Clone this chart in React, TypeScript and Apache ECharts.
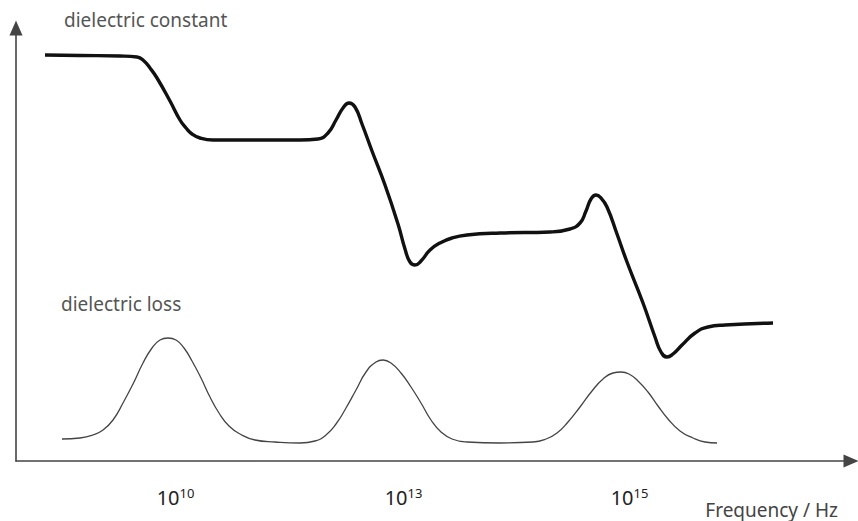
import React, { useEffect, useRef } from "react";
import * as echarts from "echarts";

// Schematic frequency axis (arbitrary units) and response values (arbitrary units)
const dielectricConstant: [number, number][] = [
  [45, 406], [80, 405.5], [120, 405], [137, 404], [144, 400], [150, 393], [157, 383],
  [170, 360], [180, 341], [186, 333], [192, 327], [200, 323], [213, 321], [250, 321],
  [300, 321], [318, 322], [328, 328], [336, 341], [343, 353], [349, 358], [355, 354],
  [362, 337], [372, 310], [385, 276], [398, 237], [405, 212], [410, 199], [415, 196],
  [421, 200], [430, 211], [440, 218], [452, 223], [467, 226], [500, 228], [550, 229],
  [570, 232], [580, 238], [586, 250], [591, 262], [596, 266], [601, 263], [607, 254],
  [617, 227], [627, 199], [643, 158], [655, 124], [661, 109], [667, 104], [673, 107],
  [682, 116], [695, 128], [708, 134], [725, 136], [773, 138],
];

const dielectricLoss: [number, number][] = [
  [62, 22], [80, 23], [93, 26], [103, 31], [113, 41], [123, 58], [133, 77], [143, 98],
  [152, 113], [160, 121], [168, 123], [176, 121], [184, 113], [192, 100], [201, 83],
  [210, 64], [219, 48], [229, 35], [240, 27], [255, 21], [275, 19], [300, 18], [315, 20],
  [326, 26], [336, 37], [346, 53], [356, 71], [366, 89], [376, 99], [383, 101], [391, 98],
  [401, 88], [411, 74], [421, 58], [431, 41], [441, 29], [452, 22], [467, 19], [500, 18],
  [533, 19], [546, 22], [557, 28], [568, 39], [580, 54], [592, 70], [603, 82], [613, 88],
  [621, 89], [629, 87], [638, 80], [648, 69], [658, 55], [668, 42], [680, 30], [693, 23],
  [705, 19], [717, 18],
];

const tickValues = [168, 396, 622];
const tickExponents = ["10", "13", "15"];

const xName = "Frequency / Hz";
const constantName = "dielectric constant";
const lossName = "dielectric loss";

const FONT = "'Noto Sans', 'Open Sans', sans-serif";

export default function App() {
  const ref = useRef<HTMLDivElement>(null);

  useEffect(() => {
    if (!ref.current) return;
    const chart = echarts.init(ref.current, null, { renderer: "svg" });
    chart.setOption({
      animation: false,
      backgroundColor: "#ffffff",
      grid: { left: 16, right: 7, top: 28, bottom: 60, outerBoundsMode: "none", containLabel: false },
      xAxis: {
        type: "value",
        min: 16,
        max: 851,
        axisLine: {
          show: true,
          lineStyle: { color: "#444", width: 1.6 },
          symbol: ["none", "triangle"],
          symbolSize: [13, 15],
        },
        axisTick: { show: false },
        splitLine: { show: false },
        axisLabel: {
          customValues: tickValues,
          margin: 25,
          color: "#222",
          fontFamily: FONT,
          fontSize: 20,
          padding: [0, 0, 0, 15],
          formatter: (v: number) => {
            const i = tickValues.indexOf(v);
            return i >= 0 ? `10{s|${tickExponents[i]}}` : "";
          },
          rich: {
            s: { fontSize: 13, fontFamily: FONT, color: "#222", verticalAlign: "top", lineHeight: 22 },
          },
        },
      },
      yAxis: {
        type: "value",
        min: 0,
        max: 433,
        axisLine: {
          show: true,
          lineStyle: { color: "#444", width: 1.6 },
          symbol: ["none", "triangle"],
          symbolSize: [13, 15],
        },
        axisTick: { show: false },
        axisLabel: { show: false },
        splitLine: { show: false },
      },
      series: [
        {
          name: constantName,
          type: "line",
          data: dielectricConstant,
          smooth: 0.5,
          showSymbol: false,
          lineStyle: { color: "#111", width: 3.4 },
        },
        {
          name: lossName,
          type: "line",
          data: dielectricLoss,
          smooth: 0.5,
          showSymbol: false,
          lineStyle: { color: "#444", width: 1.3 },
        },
      ],
      graphic: [
        {
          type: "text",
          left: 64,
          top: 10,
          style: { text: constantName, fill: "#555", font: `19px ${FONT}` },
        },
        {
          type: "text",
          left: 61,
          top: 294,
          style: { text: lossName, fill: "#555", font: `19px ${FONT}` },
        },
        {
          type: "text",
          right: 20,
          top: 500,
          style: { text: xName, fill: "#444", font: `19px ${FONT}` },
        },
      ],
    });
    return () => chart.dispose();
  }, []);

  return (
    <div
      ref={ref}
      style={{ position: "fixed", left: 0, top: 0, width: 858, height: 521 }}
    />
  );
}
